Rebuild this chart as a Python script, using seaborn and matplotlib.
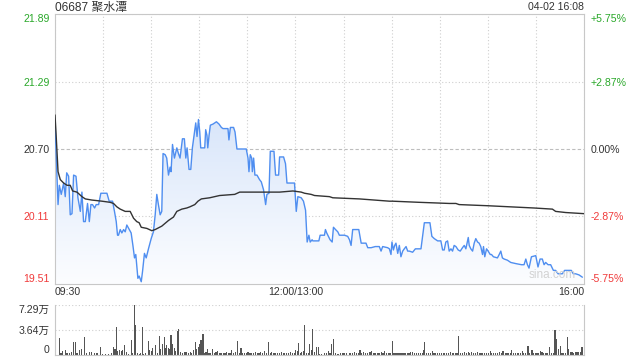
import numpy as np
import pandas as pd
import matplotlib
matplotlib.use("Agg")
import matplotlib.pyplot as plt
import seaborn as sns
from matplotlib.patches import PathPatch
from matplotlib.colors import LinearSegmentedColormap

sns.set_theme(style="white")
plt.rcParams["font.family"] = ["Liberation Sans", "Noto Sans CJK SC", "DejaVu Sans"]

# ---------------- data ----------------
title = "06687 聚水潭"
stamp = "04-02 16:08"
price_ticks = [19.51, 20.11, 20.70, 21.29, 21.89]
price_labels = ["19.51", "20.11", "20.70", "21.29", "21.89"]
pct_labels = ["-5.75%", "-2.87%", "0.00%", "+2.87%", "+5.75%"]
label_colors = ["#f03a3a", "#f03a3a", "#333333", "#2aa82a", "#2aa82a"]
time_ticks = [0, 30, 60, 90, 120, 150, 180, 210, 240, 270, 300, 330]
time_labels = ["09:30", "", "", "", "", "12:00/13:00", "", "", "", "", "", "16:00"]
vol_ticks = [0, 36450, 72900]
vol_labels = ["0", "3.64万", "7.29万"]

# minutes since 09:30 (lunch break removed), price
price_min = [0, 1.9, 2.7, 3.9, 5.4, 6.4, 7.3, 8.5, 9.5, 10.6, 11.6, 13.1, 14.3, 15.8, 16.8, 17.8,
             18.9, 20.3, 21.4, 22.4, 23.4, 24.7, 25.7, 27.2, 28.6, 32.4, 33.8, 35.9, 37.1, 38.2,
             39.0, 39.6, 40.7, 41.7, 42.8, 43.8, 44.8, 46.3, 47.5, 48.6, 49.6, 50.4, 51.7, 52.5,
             53.8, 54.6, 55.8, 56.9, 58.3, 60.0, 61.4, 62.5, 63.5, 64.5, 65.6, 66.6, 67.4, 68.7,
             69.7, 70.8, 71.8, 72.4, 73.3, 74.5, 76.0, 77.0, 78.0, 79.5, 80.7, 81.6, 82.4, 83.6,
             84.7, 85.7, 87.0, 87.8, 88.6, 89.5, 90.3, 90.9, 93.4, 94.0, 94.8, 95.3, 96.1, 96.9,
             98.6, 100.7, 102.3, 103.8, 104.8, 107.9, 108.5, 109.4, 111.4, 112.3, 113.5, 119.3,
             120.4, 121.0, 121.8, 122.7, 123.1, 123.9, 124.7, 126.0, 127.6, 128.7, 130.1, 131.4,
             132.2, 133.5, 134.3, 136.6, 137.6, 139.5, 140.1, 142.6, 143.8, 144.7, 149.4, 150.5,
             151.5, 153.6, 155.0, 156.3, 157.3, 158.4, 159.2, 160.4, 160.8, 164.6, 165.4, 168.1,
             168.7, 169.5, 170.2, 171.6, 172.9, 173.7, 175.0, 176.4, 177.4, 179.5, 180.6, 182.6,
             183.7, 184.7, 185.7, 189.5, 191.0, 194.0, 195.1, 197.2, 199.8, 202.3, 203.4, 204.4,
             207.5, 208.6, 209.6, 210.2, 211.1, 211.9, 212.7, 213.8, 214.8, 215.8, 216.9, 217.9,
             219.0, 220.0, 221.0, 223.1, 224.8, 228.3, 230.4, 233.9, 235.1, 236.6, 238.7, 240.7,
             241.8, 242.8, 243.8, 244.9, 245.9, 247.0, 248.0, 249.0, 250.1, 251.5, 252.8, 254.2,
             255.3, 256.3, 257.8, 258.4, 259.4, 260.5, 261.5, 262.5, 263.6, 264.6, 265.6, 266.7,
             267.3, 268.1, 269.2, 270.2, 271.5, 272.3, 273.5, 276.0, 277.1, 278.1, 279.1, 280.2,
             282.2, 284.3, 287.4, 291.0, 292.6, 293.7, 294.7, 295.7, 297.2, 299.9, 301.3, 302.6,
             304.0, 305.1, 306.1, 307.6, 309.2, 310.9, 312.3, 313.8, 316.5, 317.9, 322.1, 323.3,
             324.8, 326.9, 329.0]
price_val = [20.93, 20.21, 20.38, 20.30, 20.40, 20.28, 20.49, 20.46, 20.12, 20.13, 20.47, 20.46,
             20.27, 20.15, 20.32, 20.06, 20.06, 20.22, 20.06, 20.21, 20.21, 20.18, 20.21, 20.21,
             20.31, 20.31, 20.24, 20.24, 20.15, 20.06, 19.94, 19.94, 19.99, 19.96, 19.99, 19.97,
             20.03, 19.99, 19.96, 19.85, 19.74, 19.77, 19.56, 19.58, 19.53, 19.62, 19.78, 19.74,
             19.82, 19.91, 19.97, 20.12, 20.30, 20.21, 20.12, 20.15, 20.66, 20.65, 20.62, 20.47,
             20.54, 20.50, 20.74, 20.62, 20.71, 20.66, 20.62, 20.79, 20.79, 20.62, 20.71, 20.52,
             20.52, 20.71, 20.85, 20.93, 20.81, 20.96, 20.85, 20.71, 20.71, 20.87, 20.82, 20.71,
             20.82, 20.91, 20.92, 20.94, 20.92, 20.89, 20.88, 20.88, 20.78, 20.89, 20.89, 20.85,
             20.70, 20.70, 20.62, 20.50, 20.65, 20.62, 20.50, 20.62, 20.47, 20.47, 20.43, 20.41,
             20.34, 20.21, 20.30, 20.31, 20.68, 20.68, 20.47, 20.47, 20.63, 20.63, 20.57, 20.40,
             20.40, 20.15, 20.28, 20.27, 20.24, 20.16, 19.88, 19.94, 19.88, 19.90, 19.89, 19.89,
             19.94, 19.94, 19.99, 19.96, 19.94, 19.90, 19.88, 20.01, 19.99, 19.97, 19.94, 19.94,
             19.94, 19.93, 19.90, 19.85, 19.99, 19.99, 19.87, 19.87, 19.83, 19.83, 19.84, 19.84,
             19.80, 19.84, 19.83, 19.82, 19.77, 19.88, 19.81, 19.85, 19.87, 19.78, 19.85, 19.75,
             19.80, 19.82, 19.84, 19.80, 19.80, 19.79, 19.82, 19.82, 20.05, 20.05, 19.93, 19.91,
             19.89, 19.89, 19.81, 19.81, 19.88, 19.89, 19.80, 19.82, 19.80, 19.85, 19.84,
             19.81, 19.80, 19.83, 19.85, 19.82, 19.92, 19.85, 19.82, 19.80, 19.87, 19.91, 19.88,
             19.87, 19.84, 19.77, 19.84, 19.75, 19.82, 19.80, 19.77, 19.77, 19.75, 19.74, 19.77,
             19.80, 19.74, 19.73, 19.72, 19.70, 19.69, 19.68, 19.68, 19.73, 19.68, 19.65, 19.75,
             19.76, 19.66, 19.73, 19.73, 19.68, 19.70, 19.68, 19.68, 19.63, 19.63, 19.60, 19.60,
             19.63, 19.63, 19.60, 19.60, 19.59, 19.57]

avg_min = [0, 0.6, 1.9, 3.3, 5.4, 7.5, 9.5, 11.0, 13.7, 16.8, 18.9, 23.0, 29.3, 34.4, 36.5, 38.6,
           40.7, 43.8, 46.9, 49.0, 51.0, 52.5, 53.8, 57.3, 60.4, 62.5, 66.6, 70.8, 73.9, 76.0,
           79.1, 82.2, 84.1, 87.2, 89.2, 91.3, 96.5, 102.7, 112.1, 115.2, 119.3, 129.7, 140.1,
           148.4, 153.6, 155.7, 159.8, 161.9, 171.2, 173.3, 189.9, 208.6, 210.6, 227.2, 246.0,
           250.1, 252.1, 269.8, 284.3, 298.8, 310.3, 312.3, 318.6, 330.0]
avg_val = [21.00, 20.85, 20.50, 20.43, 20.40, 20.38, 20.38, 20.33, 20.32, 20.28, 20.26, 20.25,
           20.24, 20.23, 20.22, 20.19, 20.17, 20.15, 20.15, 20.09, 20.06, 20.05, 20.01, 20.00,
           19.98, 19.99, 20.02, 20.07, 20.10, 20.15, 20.17, 20.18, 20.19, 20.21, 20.24, 20.26,
           20.27, 20.29, 20.30, 20.32, 20.32, 20.32, 20.32, 20.33, 20.32, 20.31, 20.30, 20.29,
           20.28, 20.27, 20.26, 20.24, 20.24, 20.23, 20.22, 20.22, 20.21, 20.20, 20.19, 20.18,
           20.17, 20.15, 20.14, 20.13]

vol_min = [0.2, 2.7, 3.7, 4.8, 6.4, 7.5, 8.9, 10.2, 11.4, 12.7, 13.7, 15.1, 16.4, 18.3, 19.5, 21.4,
           23.0, 24.7, 26.2, 28.4, 29.7, 31.3, 33.4, 35.1, 36.3, 37.4, 38.2, 39.0, 40.1, 41.3,
           42.3, 43.4, 44.4, 45.9, 47.5, 48.4, 49.4, 50.1, 51.3, 52.5, 53.3, 54.4, 55.4, 56.7,
           58.1, 59.1, 60.0, 61.0, 62.5, 63.7, 65.0, 66.0, 67.0, 68.1, 68.9, 69.7, 70.8, 71.6,
           72.4, 73.3, 74.3, 75.3, 76.2, 77.2, 78.2, 79.5, 81.1, 82.2, 83.2, 84.3, 85.3, 86.3,
           87.4, 88.2, 89.4, 90.3, 91.1, 92.3, 93.2, 94.2, 95.3, 96.1, 96.9, 98.2, 99.4, 100.4,
           101.5, 102.9, 104.0, 105.0, 106.0, 107.1, 108.1, 109.2, 110.2, 111.4, 112.5, 113.9,
           115.0, 116.0, 116.8, 118.1, 119.3, 120.4, 121.6, 122.7, 123.9, 124.9, 126.2, 127.2,
           128.3, 129.5, 130.7, 132.0, 133.0, 134.3, 135.3, 136.6, 137.6, 138.8, 139.9, 141.1,
           142.4, 143.4, 144.4, 145.9, 146.9, 148.0, 149.2, 150.2, 151.1, 151.9, 152.9, 153.8,
           154.8, 155.8, 156.7, 157.9, 159.0, 160.0, 160.8, 162.1, 163.1, 164.2,
           165.2, 166.2, 167.9, 169.5, 170.4, 171.6, 172.7, 173.7, 175.2, 176.6, 177.9, 179.3,
           180.3, 182.0, 183.5, 184.5, 185.5, 186.6, 188.0, 189.1, 190.3, 191.3, 192.4, 193.8,
           194.9, 196.5, 197.6, 199.0, 200.1, 201.1, 202.1, 203.6, 204.6, 205.7, 206.9, 208.0,
           209.0, 210.4, 211.5, 212.7, 214.0, 215.2, 216.5, 217.3, 218.3, 219.8, 220.8, 221.8,
           223.1, 224.3, 225.6, 227.0, 228.1, 229.1, 229.9, 230.6, 231.8, 232.9, 234.3, 235.3,
           236.4, 237.4, 238.4, 239.7, 240.9, 242.2, 243.2, 244.3, 245.3, 246.8, 247.8, 248.8,
           250.1, 250.9, 251.7, 253.0, 254.2, 255.3, 256.5, 257.8, 258.8, 259.8, 260.9, 262.1,
           263.4, 264.6, 265.8, 266.9, 268.1, 269.2, 270.2, 271.5, 272.5, 273.7, 275.0, 275.8,
           277.1, 278.3, 279.5, 280.8, 282.0, 283.1, 284.1, 284.9, 286.2, 287.4, 288.3, 289.3,
           290.3, 291.4, 292.4, 293.7, 295.1, 296.1, 297.6, 298.6, 299.7, 300.7, 301.7, 302.8,
           303.8, 304.9, 305.9, 306.9, 308.4, 309.6, 311.1, 311.9, 313.0, 314.0, 315.2, 316.3,
           317.3, 318.3, 319.6, 320.4, 321.5, 322.5, 323.5, 324.6, 325.6, 326.7, 327.7, 328.7]
vol_val = [6800, 24300, 3400, 5800, 7800, 2900, 2900, 4400, 19400, 19400, 3400, 6800, 9200, 26700,
           2400, 4900, 4900, 2900, 2400, 12200, 1900, 1900, 1900, 2400, 12200, 8300, 41300, 5800,
           7300, 5800, 7800, 14600, 4900, 1900, 22400, 3400, 72900, 43300, 2900, 1900, 3400, 41300,
           1900, 2400, 20900, 7800, 5800, 10700, 14100, 3400, 28200, 8300, 15600, 26700, 10700,
           14600, 10700, 8700, 29600, 15600, 10700, 5800, 35500, 37900, 4400, 2400, 4900, 4400,
           3400, 4900, 2400, 7800, 19400, 9200, 11700, 15600, 21400, 31100, 3400, 4900, 9200, 3400,
           2400, 8700, 2900, 4400, 5800, 2400, 3400, 2900, 3400, 3900, 2400, 2400, 7800, 3400,
           4900, 20900, 3400, 10200, 3400, 2900, 3400, 4900, 2400, 3400, 2900, 4400, 2900, 3400,
           4400, 2900, 5300, 2900, 19400, 2900, 4400, 2900, 2900, 2900, 3400, 4900, 2900, 2900,
           2900, 3400, 4900, 3400, 3400, 7300, 5800, 18000, 2900, 4400, 5800, 44200, 2900, 3400,
           16500, 6800, 38400, 4400, 11700, 11700,
           1900, 1900, 2400, 2900, 5800, 3400, 16500, 23800, 2400, 1900, 2400, 2400, 2400, 2900,
           3400, 3400, 2900, 3900, 3400, 3400, 7800, 3400, 4400, 2900, 2900, 3900, 5800, 2900,
           2400, 2400, 2900, 4900, 2900, 5800, 2900, 2900, 2900, 20900, 2900, 2400, 2400, 2900,
           2900, 3400, 2400, 2900, 3400, 3900, 4400, 2900, 2900, 2900, 3400, 2900, 7800, 19400,
           2900, 2900, 3400, 5800, 2900, 2900, 2900, 2900, 3400, 3400, 2900, 2900, 3400, 4400,
           2900, 2900, 2900, 2900, 28200, 2900, 2900, 4400, 2900, 4400, 3400, 4900, 3400, 2900,
           4400, 2900, 2900, 2900, 2900, 3400, 2900, 5300, 2900, 2900, 3400, 2900, 4400, 2900,
           5800, 2900, 2900, 3400, 3400, 7300, 2900, 3400, 2900, 2900, 3400, 5800, 2900, 2900,
           13100, 2900, 7300, 2900, 2900, 3400, 2900, 5800, 4400, 2900, 2900, 3400, 11700, 2900,
           2900, 36500, 23800, 8700, 13100, 2900, 2900, 2900, 26200, 8700, 4900, 4900, 2900, 4400,
           4400, 4900, 4900, 11700]

# ---------------- figure ----------------
W, H = 640, 360
fig = plt.figure(figsize=(6.4, 3.6), dpi=100)
fig.patch.set_facecolor("white")
L, R = 55, 584
ax = fig.add_axes([L / W, 1 - 284 / H, (R - L) / W, 270 / H])
axv = fig.add_axes([L / W, 1 - 355 / H, (R - L) / W, 50 / H])

grid_c = "#cfcfcf"
spine_c = "#c8c8c8"
lab_fs = 7.6

ax.set_xlim(time_ticks[0], time_ticks[-1])
ax.set_ylim(price_ticks[0], price_ticks[-1])

# gradient area under the price line
fill = ax.fill_between(price_min, price_val, price_ticks[0], facecolor="none", edgecolor="none")
path = fill.get_paths()[0]
patch = PathPatch(path, transform=ax.transData, facecolor="none", edgecolor="none")
ax.add_patch(patch)
cmap = LinearSegmentedColormap.from_list("g", ["#fcfdff", "#d9e6fa"])
grad = np.linspace(0, 1, 256).reshape(-1, 1)
im = ax.imshow(grad, cmap=cmap, aspect="auto", origin="lower",
               extent=[time_ticks[0], time_ticks[-1], price_ticks[0], max(price_val)],
               zorder=1)
im.set_clip_path(patch)
ax.set_xlim(time_ticks[0], time_ticks[-1])
ax.set_ylim(price_ticks[0], price_ticks[-1])

dfp = pd.DataFrame({"t": price_min, "p": price_val})
dfa = pd.DataFrame({"t": avg_min, "p": avg_val})
sns.lineplot(data=dfp, x="t", y="p", ax=ax, color="#4f8ef0", linewidth=1.0,
             estimator=None, sort=False, zorder=3)
sns.lineplot(data=dfa, x="t", y="p", ax=ax, color="#333333", linewidth=1.0,
             estimator=None, sort=False, zorder=4)

# grid
ax.set_xticks(time_ticks)
ax.set_xticklabels(time_labels)
ax.set_yticks(price_ticks)
ax.set_yticklabels(price_labels)
ax.grid(True, axis="both", color=grid_c, linestyle=(0, (1, 2)), linewidth=0.8)
ax.yaxis.get_gridlines()[2].set_linestyle((0, (3, 2)))
ax.yaxis.get_gridlines()[2].set_color("#bdbdbd")
ax.set_axisbelow(True)
ax.set_xlabel("")
ax.set_ylabel("")
for s in ax.spines.values():
    s.set_visible(True)
    s.set_color(spine_c)
    s.set_linewidth(0.8)
ax.tick_params(axis="both", length=0, labelsize=lab_fs, colors="#333333")
ax.tick_params(axis="x", pad=2.5)
ax.tick_params(axis="y", pad=4)
xl = ax.get_xticklabels()
xl[0].set_ha("left")
xl[-1].set_ha("right")
yl = ax.get_yticklabels()
for t, c in zip(yl, label_colors):
    t.set_color(c)
yl[0].set_va("bottom")
yl[-1].set_va("top")

ax2 = ax.twinx()
ax2.set_ylim(price_ticks[0], price_ticks[-1])
ax2.set_yticks(price_ticks)
ax2.set_yticklabels(pct_labels)
ax2.tick_params(axis="y", length=0, labelsize=lab_fs, pad=5)
ax2.grid(False)
for s in ax2.spines.values():
    s.set_visible(False)
yl2 = ax2.get_yticklabels()
for t, c in zip(yl2, label_colors):
    t.set_color(c)
yl2[0].set_va("bottom")
yl2[-1].set_va("top")

ax.text(0.985, 0.012, "sina.com", transform=ax.transAxes, ha="right", va="bottom",
        fontsize=8.5, color="#d2d2d2", zorder=5)

# volume panel
axv.bar(vol_min, vol_val, width=0.75, color="#555555", linewidth=0)
axv.set_xlim(time_ticks[0], time_ticks[-1])
axv.set_ylim(vol_ticks[0], vol_ticks[-1])
axv.set_xticks([])
axv.set_yticks(vol_ticks)
axv.set_yticklabels(vol_labels)
axv.grid(True, axis="y", color=grid_c, linestyle=(0, (1, 2)), linewidth=0.8)
axv.grid(False, axis="x")
axv.set_axisbelow(True)
for k, s in axv.spines.items():
    s.set_color(spine_c)
    s.set_linewidth(0.8)
    s.set_visible(k != "top")
axv.tick_params(axis="y", length=0, labelsize=lab_fs, pad=4, colors="#333333")
vl = axv.get_yticklabels()
vl[0].set_va("bottom")
vl[-1].set_va("top")

fig.text(L / W, 1 - 7.5 / H, title, ha="left", va="center", fontsize=8.6, color="#333333")
fig.text(R / W, 1 - 7.5 / H, stamp, ha="right", va="center", fontsize=7.6, color="#333333")

fig.savefig("out.png", dpi=100, facecolor="white")
